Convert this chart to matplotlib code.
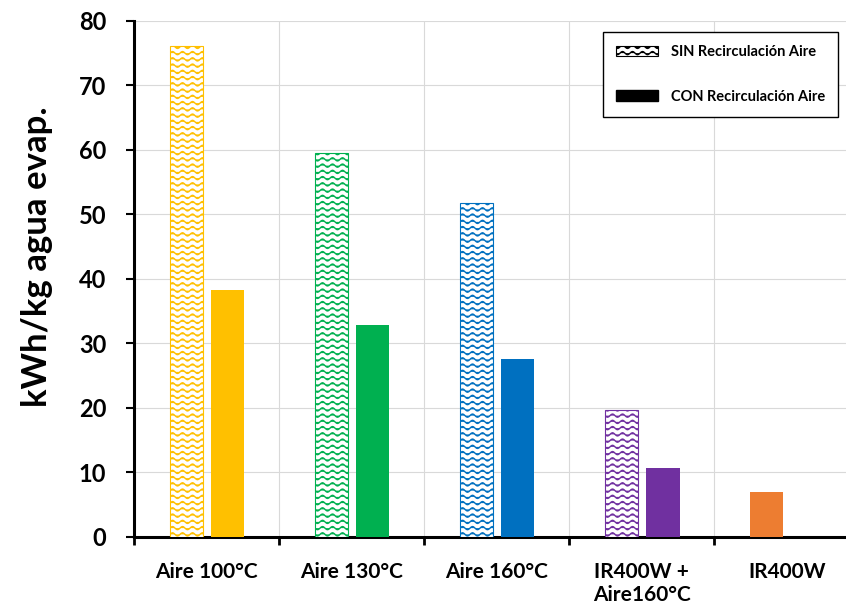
import warnings
import numpy as np
import matplotlib
matplotlib.use("Agg")
import matplotlib.pyplot as plt
import matplotlib.hatch as mhatch
from matplotlib.path import Path
from matplotlib.patches import Patch

# wavy hatch ('~'), not part of the stock hatch set
class WaveHatch(mhatch.HatchPatternBase):
    npts = 91

    def __init__(self, hatch, density):
        self.num_rows = int(hatch.count('~') * density * 8 / 3)
        self.num_vertices = self.num_rows * self.npts

    def set_vertices_and_codes(self, vertices, codes):
        xs = np.linspace(0.0, 1.0, self.npts)
        wave = 0.016 * np.sin(2 * np.pi * 10 * xs)
        for i in range(self.num_rows):
            sl = slice(i * self.npts, (i + 1) * self.npts)
            vertices[sl, 0] = xs
            vertices[sl, 1] = (i + 0.5) / self.num_rows + wave
            codes[sl] = Path.LINETO
            codes[i * self.npts] = Path.MOVETO

mhatch._hatch_types.append(WaveHatch)
warnings.filterwarnings("ignore", message=".*hatch.*")

plt.rcParams['font.family'] = ['Lato', 'DejaVu Sans']
plt.rcParams['font.weight'] = 'bold'
plt.rcParams['hatch.linewidth'] = 1.0

categorias = ["Aire 100°C", "Aire 130°C", "Aire 160°C",
              "IR400W +\nAire160°C", "IR400W"]
sin_recirc = [76.0, 59.4, 51.8, 19.6]
con_recirc = [38.3, 32.8, 27.5, 10.7]
ir400w = 7.0
colores = ["#FFC000", "#00B050", "#0070C0", "#7030A0", "#ED7D31"]

fig = plt.figure(figsize=(8.46, 6.06), dpi=100)
W, H = 846, 606
x0, x1, ytop, ybot = 134, 859.5, 20.5, 537
ax = fig.add_axes([x0 / W, 1 - ybot / H, (x1 - x0) / W, (ybot - ytop) / H])

ancho = 0.23
off_sin, off_con = -0.14, 0.145
x = np.arange(len(categorias))

for i in range(len(sin_recirc)):
    ax.bar(x[i] + off_sin, sin_recirc[i], ancho, facecolor='white',
           edgecolor=colores[i], hatch='~', linewidth=0.8, zorder=3)
    ax.bar(x[i] + off_con, con_recirc[i], ancho, color=colores[i],
           linewidth=0, zorder=3)
ax.bar(x[4] + off_sin, ir400w, ancho, color=colores[4], linewidth=0, zorder=3)

ax.set_xlim(-0.5, 4.5)
ax.set_ylim(0, 80)
ax.set_yticks(np.arange(0, 81, 10))
ax.set_xticks(np.arange(-0.5, 5.0, 1.0))
ax.set_xticklabels([])
ax.set_xticks(x, minor=True)
ax.set_xticklabels(categorias, minor=True)

ax.tick_params(axis='x', which='major', direction='out', length=6, width=2)
ax.tick_params(axis='x', which='minor', length=0, pad=18, labelsize=15)
ax.tick_params(axis='y', direction='out', length=6, width=1.5, pad=14,
               labelsize=17)

ax.grid(True, which='major', color='#D9D9D9', linewidth=0.8, zorder=0)
ax.set_axisbelow(True)
for s in ['top', 'right']:
    ax.spines[s].set_visible(False)
for s in ['left', 'bottom']:
    ax.spines[s].set_linewidth(2.2)
    ax.spines[s].set_color('black')

fig.text(37 / W, 1 - 257 / H, "kWh/kg agua evap.", rotation=90,
         ha='center', va='center', fontsize=25, fontweight='bold')

handles = [Patch(facecolor='white', edgecolor='black', hatch='~', linewidth=0.8,
                 label='SIN Recirculación Aire'),
           Patch(facecolor='black', edgecolor='black',
                 label='CON Recirculación Aire')]
leg = ax.legend(handles=handles, loc='upper right',
                bbox_to_anchor=(838 / W, 1 - 32 / H),
                bbox_transform=fig.transFigure, borderaxespad=0,
                fancybox=False, edgecolor='black', framealpha=1,
                handlelength=2.9, handleheight=0.75,
                handletextpad=0.85, borderpad=0.9, labelspacing=2.1,
                prop={'weight': 'bold', 'size': 10.5})
leg.get_frame().set_linewidth(1.0)

fig.savefig("out.png", dpi=100)
